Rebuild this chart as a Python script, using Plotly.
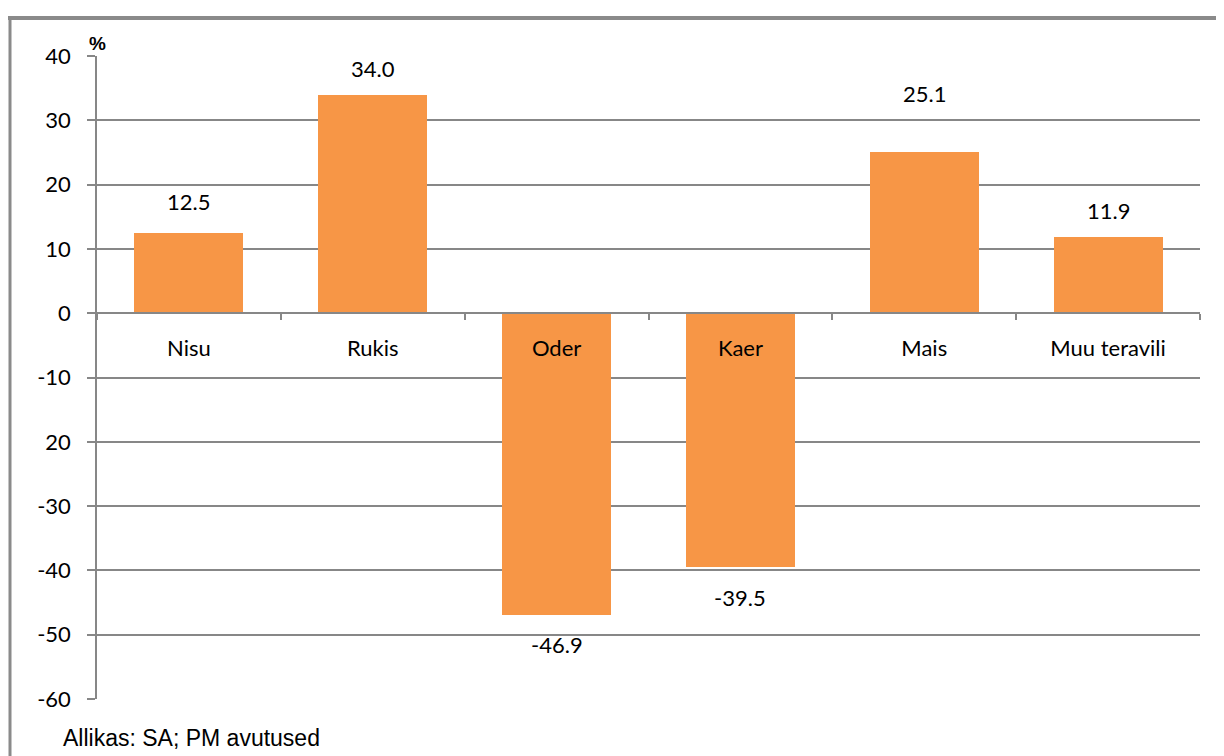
import plotly.graph_objects as go

categories = ["Nisu", "Rukis", "Oder", "Kaer", "Mais", "Muu teravili"]
values = [12.5, 34.0, -46.9, -39.5, 25.1, 11.9]
value_labels = ["12.5", "34.0", "-46.9", "-39.5", "25.1", "11.9"]
label_shift_px = [31, 26, -30, -30, 58, 26]
y_tickvals = [40, 30, 20, 10, 0, -10, -20, -30, -40, -50, -60]
y_ticktext = ["40", "30", "20", "10", "0", "-10", "20", "-30", "-40", "-50", "-60"]

# page body has an 8px margin; figure is sized/offset to compensate
OFF = 8
W, H = 1216, 748
L, R, T, B = 89, 24, 48, 57
pw, ph = W - L - R, H - T - B

def px(x):
    return (x - OFF - L) / pw

def py(y):
    return (H - B - (y - OFF)) / ph

FONT = "Lato"
GRID = "#878787"

fig = go.Figure()
fig.add_trace(go.Bar(
    x=categories, y=values, width=0.593,
    marker=dict(color="#F79646", line=dict(width=0)),
    hoverinfo="skip",
))

for c, v, t, s in zip(categories, values, value_labels, label_shift_px):
    fig.add_annotation(x=c, y=v, text=t, showarrow=False, yshift=s,
                       font=dict(family=FONT, size=22, color="#000"))

fig.add_annotation(x=px(87), y=py(44), xref="paper", yref="paper", text="<b>%</b>",
                   showarrow=False, xanchor="left", yanchor="middle",
                   font=dict(family="Liberation Sans", size=19, color="#000"))
fig.add_annotation(x=px(61), y=py(738), xref="paper", yref="paper",
                   text="Allikas: SA; PM avutused", showarrow=False,
                   xanchor="left", yanchor="middle",
                   font=dict(family="Liberation Sans", size=23, color="#000"))

# outer border (top and left)
fig.add_shape(type="line", xref="paper", yref="paper",
              x0=px(8), x1=px(1224), y0=py(18), y1=py(18),
              line=dict(color="#8a8a8a", width=4))
fig.add_shape(type="line", xref="paper", yref="paper",
              x0=px(10), x1=px(10), y0=py(18), y1=py(760),
              line=dict(color="#8a8a8a", width=3))

fig.update_layout(
    width=W, height=H,
    margin=dict(l=L, r=R, t=T, b=B),
    paper_bgcolor="white", plot_bgcolor="white",
    showlegend=False,
    bargap=0,
    xaxis=dict(
        anchor="free", position=0.6,
        showline=True, linecolor=GRID, linewidth=1.5,
        ticks="outside", ticklen=6, tickcolor=GRID, tickwidth=1.5,
        tickson="boundaries",
        showgrid=False, zeroline=False,
        tickfont=dict(family=FONT, size=22, color="#000"),
        ticklabelstandoff=16,
        range=[-0.5, 5.5],
    ),
    yaxis=dict(
        range=[-60, 40],
        tickvals=y_tickvals, ticktext=y_ticktext,
        showline=True, linecolor=GRID, linewidth=1.5,
        ticks="outside", ticklen=8, tickcolor=GRID, tickwidth=1.5,
        showgrid=True, gridcolor=GRID, gridwidth=1.5,
        zeroline=False,
        tickfont=dict(family=FONT, size=22, color="#000"),
        ticklabelstandoff=12,
    ),
)

fig.write_html("out.html")
